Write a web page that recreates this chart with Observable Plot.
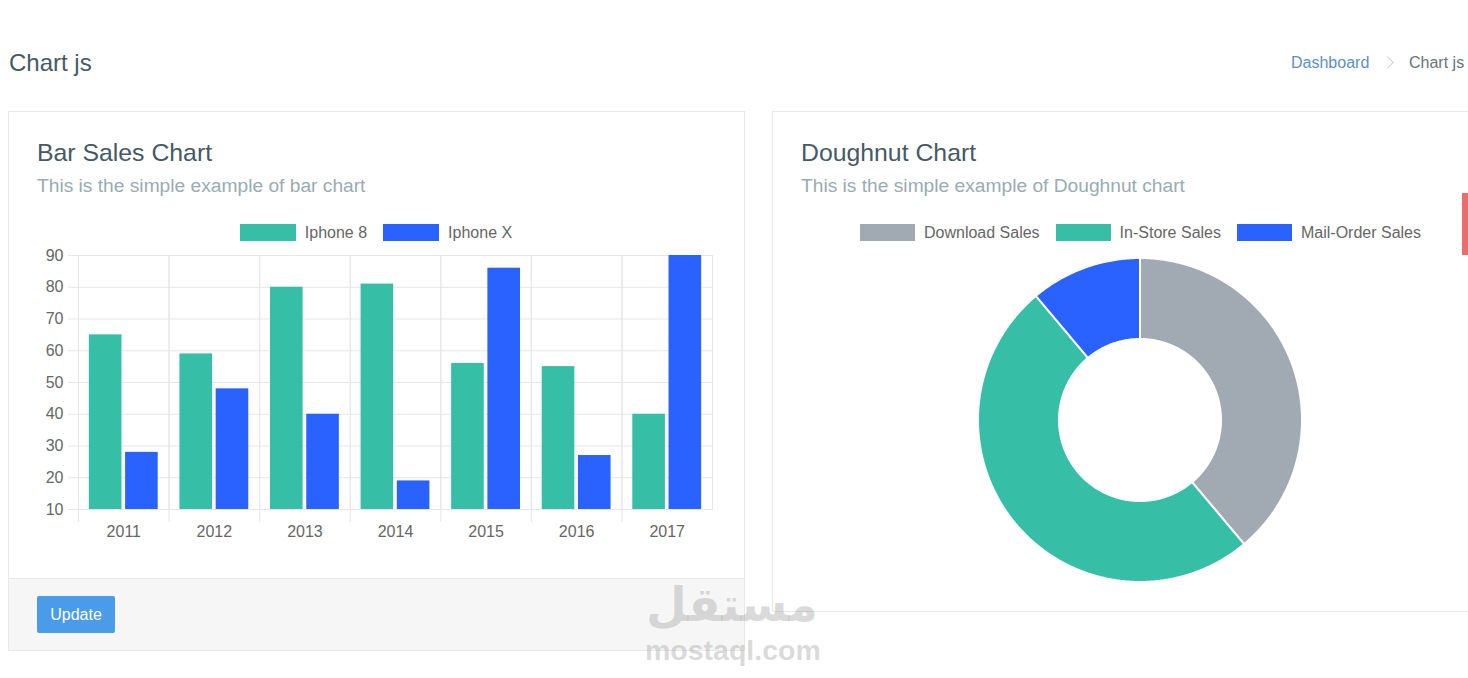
<!DOCTYPE html>
<html>
<head>
<meta charset="utf-8">
<script src="https://cdn.jsdelivr.net/npm/d3@7"></script>
<script src="https://cdn.jsdelivr.net/npm/@observablehq/plot@0.6"></script>
<style>
  html, body { margin: 0; padding: 0; background: #ffffff; }
  body { width: 1468px; height: 678px; overflow: hidden; position: relative;
         font-family: "Liberation Sans", Arial, Helvetica, sans-serif; }
  .abs { position: absolute; white-space: nowrap; line-height: 1; }
  .card { position: absolute; border: 1px solid #e8e8e8; background: #fff; box-sizing: border-box; }
  .title { color: #455a64; font-size: 24.8px; }
  .sub { color: #99abb4; font-size: 19.2px; }
  .legendwrap { position: absolute; height: 17px; display: flex; justify-content: center; align-items: center; }
  .lg-swatches { margin: 0 !important; min-height: 0 !important; }
  .lg-swatches-wrap { min-height: 0 !important; }
  .lg-swatch { margin-right: 16px !important; }
  .lg-swatch:last-child { margin-right: 0 !important; }
  .lg-swatch > svg { margin-right: 9px !important; }
</style>
</head>
<body>
<script>
// ---------- data ----------
const years = ["2011", "2012", "2013", "2014", "2015", "2016", "2017"];
const iphone8 = [65, 59, 80, 81, 56, 55, 40];
const iphoneX = [28, 48, 40, 19, 86, 27, 90];
const barSeries = ["Iphone 8", "Iphone X"];
const barColors = ["#36bea6", "#2962ff"];
const yTicks = [10, 20, 30, 40, 50, 60, 70, 80, 90];

const doughnutLabels = ["Download Sales", "In-Store Sales", "Mail-Order Sales"];
const doughnutValues = [350, 450, 100];
const doughnutColors = ["#a1aab2", "#36bea6", "#2962ff"];

const pageTitle = "Chart js";
const crumbs = ["Dashboard", "Chart js"];
const barTitle = "Bar Sales Chart";
const barSubtitle = "This is the simple example of bar chart";
const doughnutTitle = "Doughnut Chart";
const doughnutSubtitle = "This is the simple example of Doughnut chart";
const buttonLabel = "Update";

// ---------- page chrome ----------
function el(tag, cls, style, text) {
  const e = document.createElement(tag);
  if (cls) e.className = cls;
  Object.assign(e.style, style || {});
  if (text != null) e.textContent = text;
  document.body.appendChild(e);
  return e;
}

el("div", "abs", {left: "9px", top: "51px", fontSize: "24px", color: "#455a64"}, pageTitle);
el("div", "abs", {left: "1291px", top: "55px", fontSize: "16px", color: "#5b8fcb"}, crumbs[0]);
el("div", "", {position: "absolute", left: "1383px", top: "58px", width: "8px", height: "8px",
  borderTop: "1.3px solid #cfcfcf", borderRight: "1.3px solid #cfcfcf", transform: "rotate(45deg)"});
el("div", "abs", {left: "1409px", top: "55px", fontSize: "16px", color: "#67757c"}, crumbs[1]);

// cards
el("div", "card", {left: "8px", top: "111px", width: "737px", height: "540px"});
el("div", "", {position: "absolute", left: "9px", top: "578px", width: "735px", height: "72px",
               background: "#f6f6f6", borderTop: "1px solid #e8e8e8", boxSizing: "border-box"});
el("div", "card", {left: "772px", top: "111px", width: "740px", height: "501px"});

el("div", "abs title", {left: "37px", top: "141px"}, barTitle);
el("div", "abs sub", {left: "37px", top: "176px"}, barSubtitle);
el("div", "abs title", {left: "801px", top: "141px"}, doughnutTitle);
el("div", "abs sub", {left: "801px", top: "176px"}, doughnutSubtitle);

el("div", "abs", {left: "37px", top: "596px", width: "78px", height: "37px", background: "#4a9be8",
  borderRadius: "2px", color: "#fff", fontSize: "16px", display: "flex", alignItems: "center", justifyContent: "center"}, buttonLabel);

// red side tab
el("div", "", {position: "absolute", left: "1462px", top: "193px", width: "8px", height: "62px", background: "#ec6c6c"});

// ---------- bar chart ----------
const barData = years.flatMap((yr, i) => [
  {year: yr, series: barSeries[0], value: iphone8[i]},
  {year: yr, series: barSeries[1], value: iphoneX[i]}
]);
const grid = "#e6e6e6";
const bw = 700, bml = 48, bmr = 18;
const bandW = (bw - bml - bmr) / years.length;

const bar = Plot.plot({
  width: bw, height: 299,
  marginLeft: bml, marginRight: bmr, marginTop: 10, marginBottom: 35,
  style: {fontFamily: "'Liberation Sans', Arial, sans-serif", fontSize: "16px", color: "#666", background: "transparent", overflow: "visible"},
  fx: {domain: years, padding: 0, round: false, label: null},
  x: {domain: barSeries, paddingInner: 0.1, paddingOuter: 0.3, round: false, axis: null},
  y: {domain: [10, 90], label: null},
  color: {domain: barSeries, range: barColors},
  marks: [
    Plot.gridY(yTicks, {stroke: grid, strokeOpacity: 1}),
    Plot.frame({stroke: grid}),
    Plot.barY(barData, {fx: "year", x: "series", y: "value", fill: "series", clip: true}),
    Plot.axisY(yTicks, {tickSize: 10, tickPadding: 5, stroke: grid, fill: "#666", label: null}),
    Plot.axisFx({anchor: "bottom", tickSize: 13, dx: -bandW / 2, text: null, stroke: grid, label: null}),
    Plot.axisFx({anchor: "bottom", tickSize: 0, tickPadding: 16, fill: "#666", label: null})
  ]
});
const barBox = el("div", "", {position: "absolute", left: "30px", top: "245px"});
barBox.appendChild(bar);

const barLegendWrap = el("div", "legendwrap", {left: "37px", top: "224px", width: "678px"});
barLegendWrap.appendChild(bar.legend("color", {
  swatchWidth: 56, swatchHeight: 17, className: "lg",
  style: {fontSize: "16px", color: "#666", fontFamily: "'Liberation Sans', Arial, sans-serif"}
}));

// ---------- doughnut chart ----------
const cutout = 0.5;
const arcs = d3.pie().sort(null).value(d => d)(doughnutValues);
const ring = arcs.flatMap((a, k) => {
  const n = Math.max(2, Math.ceil((a.endAngle - a.startAngle) / (Math.PI / 360)));
  return d3.range(n + 1).map(j => {
    const t = a.startAngle + (a.endAngle - a.startAngle) * j / n;
    return {label: doughnutLabels[k],
            ox: Math.sin(t), oy: Math.cos(t),
            ix: cutout * Math.sin(t), iy: cutout * Math.cos(t)};
  });
});

const donut = Plot.plot({
  width: 332, height: 332, margin: 4,
  style: {background: "transparent", overflow: "visible"},
  x: {domain: [-1, 1], axis: null},
  y: {domain: [-1, 1], axis: null},
  color: {domain: doughnutLabels, range: doughnutColors},
  marks: [
    Plot.area(ring, {x1: "ox", y1: "oy", x2: "ix", y2: "iy", z: "label", fill: "label",
                     stroke: "#ffffff", strokeWidth: 2, strokeLinejoin: "round"})
  ]
});
const donutBox = el("div", "", {position: "absolute", left: "974px", top: "254px"});
donutBox.appendChild(donut);

const donutLegendWrap = el("div", "legendwrap", {left: "801px", top: "224px", width: "679px"});
donutLegendWrap.appendChild(donut.legend("color", {
  swatchWidth: 55, swatchHeight: 17, className: "lg",
  style: {fontSize: "16px", color: "#666", fontFamily: "'Liberation Sans', Arial, sans-serif"}
}));

// watermark
el("div", "abs", {left: "646px", top: "581px", fontSize: "47px", fontWeight: "bold", color: "rgba(150,150,150,0.35)",
  fontFamily: "'DejaVu Sans', sans-serif", direction: "rtl"}, "مستقل");
el("div", "abs", {left: "645px", top: "636px", fontSize: "28.5px", fontWeight: "bold", color: "rgba(150,150,150,0.35)"}, "mostaql.com");
</script>
</body>
</html>
